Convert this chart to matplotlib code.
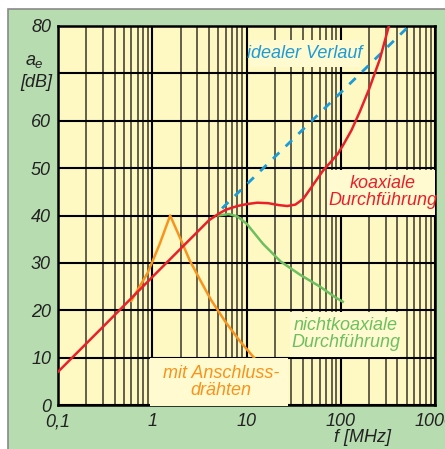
import matplotlib
matplotlib.use("Agg")
import matplotlib.pyplot as plt
from matplotlib.patches import Rectangle

# values (f in MHz, a_e in dB)
ideal_f = [5.5, 530]
ideal_db = [41.5, 80]

koax_f = [0.1, 0.3, 1, 2, 3, 4, 5, 6, 8, 10, 13, 17, 22, 27, 33, 40, 51, 65, 80, 93, 107, 130, 160, 200, 260, 324]
koax_db = [7, 16.5, 27, 33, 36.5, 39, 40.3, 41.2, 42, 42.4, 42.7, 42.6, 42.2, 42, 42.3, 43.5, 46.5, 49.5, 51.5, 53, 55, 58, 62, 66.7, 73, 80]

nichtkoax_f = [5, 6.5, 8, 10, 15, 23, 37, 60, 88, 105]
nichtkoax_db = [40, 40.3, 39.8, 38.3, 34, 30.3, 27.5, 25, 22.7, 21.8]

draht_f = [0.6, 0.9, 1.2, 1.55, 2, 2.5, 3.2, 4.2, 6, 8.5, 12]
draht_db = [22, 28, 34, 40, 35, 30.5, 26.5, 22.2, 17.5, 13.5, 10]

xticks = [0.1, 1, 10, 100, 1000]
xlabels = ["0,1", "1", "10", "100", "1000"]
yticks = [0, 10, 20, 30, 40, 50, 60, 70, 80]
ylabels = ["0", "10", "20", "30", "40", "50", "60", "", "80"]  # 70 is replaced by the unit

W, H = 445, 449
bg = "#b7dcb0"
plotbg = "#fef8c3"
boxbg = "#fffacf"
fnt = "Liberation Sans"
txtc = "#222222"

fig = plt.figure(figsize=(W / 100, H / 100), dpi=100, facecolor="white")
fig.add_artist(Rectangle((8 / W, -0.1), 1.2, (H - 9) / H + 0.1, transform=fig.transFigure,
                         facecolor=bg, edgecolor="#8a8a8a", lw=1.2, zorder=-1))

ax = fig.add_axes([58 / W, 44 / H, 377 / W, 379 / H])
ax.set_facecolor(plotbg)
ax.set_xscale("log")
ax.set_xlim(0.1, 1000)
ax.set_ylim(0, 80)

ax.grid(which="major", axis="both", color="black", lw=1.5)
ax.grid(which="minor", axis="x", color="#57523f", lw=1.3)
for s in ax.spines.values():
    s.set_linewidth(1.8)
    s.set_color("black")

ax.set_xticks(xticks)
ax.set_xticklabels(xlabels)
ax.set_yticks(yticks)
ax.set_yticklabels(ylabels)
ax.tick_params(which="both", length=0)
ax.tick_params(axis="x", pad=6)
ax.tick_params(axis="y", pad=5)
for lab in ax.get_xticklabels() + ax.get_yticklabels():
    lab.set_family(fnt)
    lab.set_style("italic")
    lab.set_fontsize(13)
    lab.set_color(txtc)

ax.plot(draht_f, draht_db, color="#f7941d", lw=1.8, zorder=3)
ax.plot(nichtkoax_f, nichtkoax_db, color="#6dbf5f", lw=1.8, zorder=3)
ax.plot(ideal_f, ideal_db, color="#1b9bd7", lw=2, dashes=(3.2, 3.2), zorder=3)
ax.plot(koax_f, koax_db, color="#e8202a", lw=1.8, zorder=4)


def fx(px):
    return px / W


def fy(py):
    return 1 - py / H


# label boxes covering the grid
for x0, y0, x1, y1 in [(250, 40, 360, 67), (327, 170, 435, 215),
                       (290, 312, 400, 357), (150, 358, 288, 406)]:
    fig.add_artist(Rectangle((fx(x0), fy(y1)), fx(x1) - fx(x0), fy(y0) - fy(y1),
                             transform=fig.transFigure, facecolor=boxbg,
                             edgecolor="none", zorder=2))

tkw = dict(family=fnt, style="italic", fontsize=13, ha="center", va="center",
           linespacing=1.05, zorder=3)
fig.text(fx(305), fy(53), "idealer Verlauf", color="#1b9bd7", **tkw)
fig.text(fx(383), fy(192), "koaxiale\nDurchführung", color="#e8202a", **tkw)
fig.text(fx(346), fy(334), "nichtkoaxiale\nDurchführung", color="#6dbf5f", **tkw)
fig.text(fx(221), fy(382), "mit Anschluss-\ndrähten", color="#f7941d", **tkw)

lkw = dict(family=fnt, style="italic", color=txtc, ha="center", va="baseline")
fig.text(fx(31), fy(65), "a", fontsize=13, **lkw)
fig.text(fx(38.5), fy(68), "e", fontsize=9.5, **lkw)
fig.text(fx(36), fy(87), "[dB]", fontsize=13, **lkw)
fig.text(fx(362), fy(442), "f [MHz]", fontsize=13, **lkw)

fig.savefig("out.png", dpi=100, facecolor="white")
